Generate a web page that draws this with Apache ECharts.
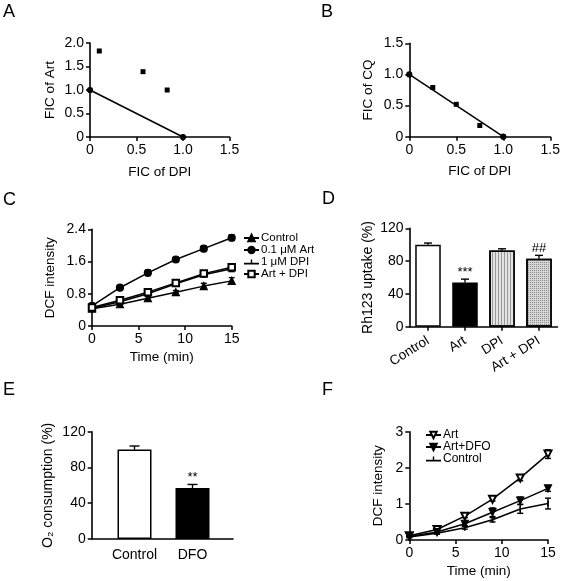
<!DOCTYPE html>
<html><head><meta charset="utf-8">
<script src="https://cdn.jsdelivr.net/npm/echarts@6/dist/echarts.min.js"></script>
<style>html,body{margin:0;padding:0;background:#fff}#c{width:563px;height:581px}</style>
</head><body><div id="c"></div>
<script>
// ---- Panel A ----
const aLineX = [0, 1];
const aLineY = [1, 0];
const aPtsX = [0.10, 0.57, 0.83];
const aPtsY = [1.83, 1.39, 1.00];
// ---- Panel B ----
const bLineX = [0, 1];
const bLineY = [1, 0];
const bPtsX = [0.25, 0.50, 0.75];
const bPtsY = [0.79, 0.52, 0.18];
// ---- Panel C ----
const cTime = [0, 3, 6, 9, 12, 15];
const cControl = [0.43, 0.54, 0.69, 0.84, 0.99, 1.12];
const cControlErr = [0.02, 0.03, 0.04, 0.04, 0.07, 0.08];
const cArt = [0.50, 0.95, 1.32, 1.65, 1.92, 2.19];
const cArtErr = [0.03, 0.05, 0.07, 0.05, 0.07, 0.07];
const cDPI = [0.44, 0.60, 0.80, 1.05, 1.27, 1.42];
const cDPIErr = [0.02, 0.03, 0.04, 0.04, 0.05, 0.07];
const cArtDPI = [0.46, 0.64, 0.84, 1.07, 1.30, 1.46];
const cArtDPIErr = [0.02, 0.03, 0.04, 0.04, 0.05, 0.08];
const cNames = ['Control', '0.1 μM Art', '1 μM DPI', 'Art + DPI'];
// ---- Panel D ----
const dCats = ['Control', 'Art', 'DPI', 'Art + DPI'];
const dVals = [100, 54, 93, 83];
const dErr = [2, 4, 2, 4];
const dMarks = ['', '***', '', '##'];
// ---- Panel E ----
const eCats = ['Control', 'DFO'];
const eVals = [100, 57];
const eErr = [4, 4];
const eMarks = ['', '**'];
// ---- Panel F ----
const fTime = [0, 3, 6, 9, 12, 15];
const fArt = [0.12, 0.29, 0.66, 1.13, 1.72, 2.38];
const fArtErr = [0.02, 0.03, 0.04, 0.05, 0.08, 0.12];
const fArtDFO = [0.10, 0.22, 0.45, 0.77, 1.09, 1.43];
const fArtDFOErr = [0.02, 0.03, 0.05, 0.12, 0.10, 0.08];
const fControl = [0.08, 0.19, 0.34, 0.56, 0.86, 1.01];
const fControlErr = [0.02, 0.03, 0.04, 0.06, 0.12, 0.15];
const fNames = ['Art', 'Art+DFO', 'Control'];

const FF = '"Liberation Sans", Arial, sans-serif';
const BLK = '#000';
const TICK = 14;
const BAR_SYM = 'path://M0,0H1V10H0Z';
const BAR_ICON = 'path://M0,4.2H15V5.8H0Z M6.8,1H8.2V5H6.8Z';
const F_SUFFIX = ' (F)';   // internal key so panel F's series names don't clash with panel C's
const fKeys = fNames.map(n => n + F_SUFFIX);

function zip(xs, ys) { return xs.map((x, i) => [x, ys[i]]); }
function zip3(xs, ys, es) { return xs.map((x, i) => [x, ys[i], es[i]]); }

function valAxis(gi, min, max, interval, fmt, name, gap, extra) {
  return Object.assign({
    type: 'value', gridIndex: gi, min: min, max: max, interval: interval,
    splitLine: { show: false },
    axisLine: { show: true, onZero: false, lineStyle: { color: BLK, width: 1.6 } },
    axisTick: { show: true, inside: false, length: 4, lineStyle: { color: BLK, width: 1.5 } },
    axisLabel: { color: BLK, fontSize: TICK, fontFamily: FF, margin: 6, formatter: fmt },
    name: name, nameLocation: 'middle', nameGap: gap,
    nameTextStyle: { color: BLK, fontSize: 13.5, fontFamily: FF }
  }, extra || {});
}
const f1 = v => v === 0 ? '0' : v.toFixed(1);
const f0 = v => String(v);

function errSeries(xi, yi, data, cap, upOnly) {
  return {
    type: 'custom', xAxisIndex: xi, yAxisIndex: yi, z: 3, silent: true,
    encode: { x: 0, y: 1 },
    data: data,
    renderItem: function (params, api) {
      const x = api.value(0), y = api.value(1), e = api.value(2);
      const hi = api.coord([x, y + e]);
      const lo = api.coord(upOnly ? [x, y] : [x, y - e]);
      const st = { stroke: BLK, lineWidth: 1.4 };
      const ch = [
        { type: 'line', shape: { x1: hi[0], y1: hi[1], x2: lo[0], y2: lo[1] }, style: st },
        { type: 'line', shape: { x1: hi[0] - cap, y1: hi[1], x2: hi[0] + cap, y2: hi[1] }, style: st }
      ];
      if (!upOnly) ch.push({ type: 'line', shape: { x1: lo[0] - cap, y1: lo[1], x2: lo[0] + cap, y2: lo[1] }, style: st });
      return { type: 'group', children: ch };
    }
  };
}

function lineSeries(name, xi, yi, data, symbol, size, rotate, bw) {
  return {
    type: 'line', name: name, xAxisIndex: xi, yAxisIndex: yi, data: data,
    symbol: symbol, symbolSize: size, symbolRotate: rotate || 0, showSymbol: true,
    symbolKeepAspect: false,
    lineStyle: { color: BLK, width: 1.5 },
    itemStyle: { color: BLK, borderColor: BLK, borderWidth: bw === undefined ? 1.2 : bw },
    z: 4, animation: false
  };
}

function markSeries(xi, yi, cats, vals, errs, marks) {
  return {
    type: 'scatter', xAxisIndex: xi, yAxisIndex: yi, symbolSize: 1, silent: true, z: 5,
    itemStyle: { opacity: 1, color: 'rgba(0,0,0,0)' },
    data: cats.map((c, i) => [i, vals[i] + errs[i], marks[i]]),
    label: { show: true, position: 'top', distance: 0, color: BLK, fontSize: 13, fontFamily: FF,
      formatter: p => p.data[2] }
  };
}

const grids = [
  { left: 90, top: 43, width: 139.5, height: 94 },        // A 0
  { left: 409.3, top: 43.3, width: 142, height: 93.4 },   // B 1
  { left: 92, top: 229.3, width: 139.7, height: 96.7 },   // C 2
  { left: 409.5, top: 228.3, width: 148, height: 98.4 },  // D 3
  { left: 91.7, top: 431.7, width: 141.3, height: 107.3 },// E axes 4
  { left: 105.5, top: 431.7, width: 116, height: 107.3 }, // E bars 5
  { left: 409.3, top: 431.7, width: 138.7, height: 108.3 }// F 6
];

const xAxes = [
  valAxis(0, 0, 1.5, 0.5, f1, 'FIC of DPI', 28),
  valAxis(1, 0, 1.5, 0.5, f1, 'FIC of DPI', 28),
  valAxis(2, 0, 15, 5, f0, 'Time (min)', 24),
  { type: 'category', gridIndex: 3, data: dCats,
    axisLine: { lineStyle: { color: BLK, width: 1.6 } },
    axisTick: { show: true, alignWithLabel: true, length: 4, lineStyle: { color: BLK, width: 1.5 } },
    axisLabel: { color: BLK, fontSize: 13.5, fontFamily: FF, rotate: 32, margin: 13, interval: 0 } },
  { type: 'value', gridIndex: 4, min: 0, max: 1,
    axisLine: { show: true, onZero: false, lineStyle: { color: BLK, width: 1.6 } },
    axisTick: { show: false }, axisLabel: { show: false }, splitLine: { show: false } },
  { type: 'category', gridIndex: 5, data: eCats,
    axisLine: { show: false }, axisTick: { show: false },
    axisLabel: { show: true, color: BLK, fontSize: 14, fontFamily: FF, margin: 9, interval: 0 } },
  valAxis(6, 0, 15, 5, f0, 'Time (min)', 24)
];
const yAxes = [
  valAxis(0, 0, 2, 0.5, f1, 'FIC of Art', 33),
  valAxis(1, 0, 1.5, 0.5, f1, 'FIC of CQ', 34),
  valAxis(2, 0, 2.4, 0.8, f1, 'DCF intensity', 35),
  valAxis(3, 0, 120, 40, f0, 'Rh123 uptake (%)', 34.5, { nameTextStyle: { color: BLK, fontSize: 14, fontFamily: FF } }),
  valAxis(4, 0, 120, 40, f0, 'O₂ consumption (%)', 36.5, { nameTextStyle: { color: BLK, fontSize: 14, fontFamily: FF } }),
  { type: 'value', gridIndex: 5, min: 0, max: 120, interval: 40, show: false },
  valAxis(6, 0, 3, 1, f0, 'DCF intensity', 24)
];

const dStyles = [
  { color: '#fff', borderColor: BLK, borderWidth: 1.5 },
  { color: '#000', borderColor: BLK, borderWidth: 1.5 },
  { color: '#e2e2e2', borderColor: BLK, borderWidth: 1.5,
    decal: { symbol: 'rect', symbolSize: 1, color: '#9a9a9a', dashArrayX: [1, 1.5], dashArrayY: [4, 0], rotation: 0 } },
  { color: '#d6d6d6', borderColor: BLK, borderWidth: 1.5,
    decal: { symbol: 'rect', symbolSize: 1, color: '#8a8a8a', dashArrayX: [1, 1], dashArrayY: [1, 1], rotation: 0 } }
];
const eStyles = [
  { color: '#fff', borderColor: BLK, borderWidth: 1.5 },
  { color: '#000', borderColor: BLK, borderWidth: 1.5 }
];

const series = [
  // A
  lineSeries('aLine', 0, 0, zip(aLineX, aLineY), 'circle', 5),
  { type: 'scatter', xAxisIndex: 0, yAxisIndex: 0, data: zip(aPtsX, aPtsY), symbol: 'rect', symbolSize: 5, itemStyle: { color: BLK, opacity: 1 } },
  // B
  lineSeries('bLine', 1, 1, zip(bLineX, bLineY), 'circle', 5),
  { type: 'scatter', xAxisIndex: 1, yAxisIndex: 1, data: zip(bPtsX, bPtsY), symbol: 'rect', symbolSize: 5, itemStyle: { color: BLK, opacity: 1 } },
  // C
  errSeries(2, 2, zip3(cTime, cControl, cControlErr), 3),
  errSeries(2, 2, zip3(cTime, cArt, cArtErr), 3),
  errSeries(2, 2, zip3(cTime, cDPI, cDPIErr), 3),
  errSeries(2, 2, zip3(cTime, cArtDPI, cArtDPIErr), 3),
  lineSeries(cNames[0], 2, 2, zip(cTime, cControl), 'triangle', 7),
  lineSeries(cNames[1], 2, 2, zip(cTime, cArt), 'circle', 7),
  lineSeries(cNames[2], 2, 2, zip(cTime, cDPI), BAR_SYM, [1.5, 6], 0, 0),
  lineSeries(cNames[3], 2, 2, zip(cTime, cArtDPI), 'emptyRect', 6.5),
  // D
  { type: 'bar', xAxisIndex: 3, yAxisIndex: 3, barCategoryGap: '31%',
    data: dVals.map((v, i) => ({ value: v, itemStyle: dStyles[i] })) },
  errSeries(3, 3, dCats.map((c, i) => [i, dVals[i], dErr[i]]), 4, true),
  markSeries(3, 3, dCats, dVals, dErr, dMarks),
  // E
  { type: 'bar', xAxisIndex: 5, yAxisIndex: 5, barWidth: 34,
    data: eVals.map((v, i) => ({ value: v, itemStyle: eStyles[i] })) },
  errSeries(5, 5, eCats.map((c, i) => [i, eVals[i], eErr[i]]), 5, true),
  markSeries(5, 5, eCats, eVals, eErr, eMarks),
  // F
  errSeries(6, 6, zip3(fTime, fArt, fArtErr), 3),
  errSeries(6, 6, zip3(fTime, fArtDFO, fArtDFOErr), 3),
  errSeries(6, 6, zip3(fTime, fControl, fControlErr), 3),
  lineSeries(fKeys[0], 6, 6, zip(fTime, fArt), 'emptyTriangle', 7, 180),
  lineSeries(fKeys[1], 6, 6, zip(fTime, fArtDFO), 'triangle', 7, 180),
  lineSeries(fKeys[2], 6, 6, zip(fTime, fControl), BAR_SYM, [1.5, 6], 0, 0)
];

const letters = [['A', 3, 3], ['B', 321, 3], ['C', 3, 191], ['D', 322, 190], ['E', 3, 381], ['F', 322, 381]];

function legendOf(keys, left, top, fs, iconFor, fmt) {
  return {
    data: keys.map(n => iconFor[n] ? { name: n, icon: iconFor[n] } : n),
    left: left, top: top, orient: 'vertical', itemWidth: 15, itemHeight: 8, itemGap: 0, padding: 0,
    textStyle: { color: BLK, fontSize: fs, lineHeight: 12, fontFamily: FF, padding: [0, 0, 0, -3] },
    formatter: fmt,
    selectedMode: false
  };
}
const iconsC = {}; iconsC[cNames[2]] = BAR_ICON;
const iconsF = {}; iconsF[fKeys[2]] = BAR_ICON;

const option = {
  animation: false,
  backgroundColor: '#fff',
  title: letters.map(l => ({ text: l[0], left: l[1], top: l[2], padding: 0,
    textStyle: { color: BLK, fontSize: 18, fontWeight: 'normal', fontFamily: FF } })),
  legend: [
    legendOf(cNames, 243, 232, 11.5, iconsC, n => n),
    legendOf(fKeys, 425, 429, 12, iconsF, n => n.replace(F_SUFFIX, ''))
  ],
  grid: grids,
  xAxis: xAxes,
  yAxis: yAxes,
  series: series
};

const chart = echarts.init(document.getElementById('c'), null, { renderer: 'canvas' });
chart.setOption(option);
</script></body></html>
